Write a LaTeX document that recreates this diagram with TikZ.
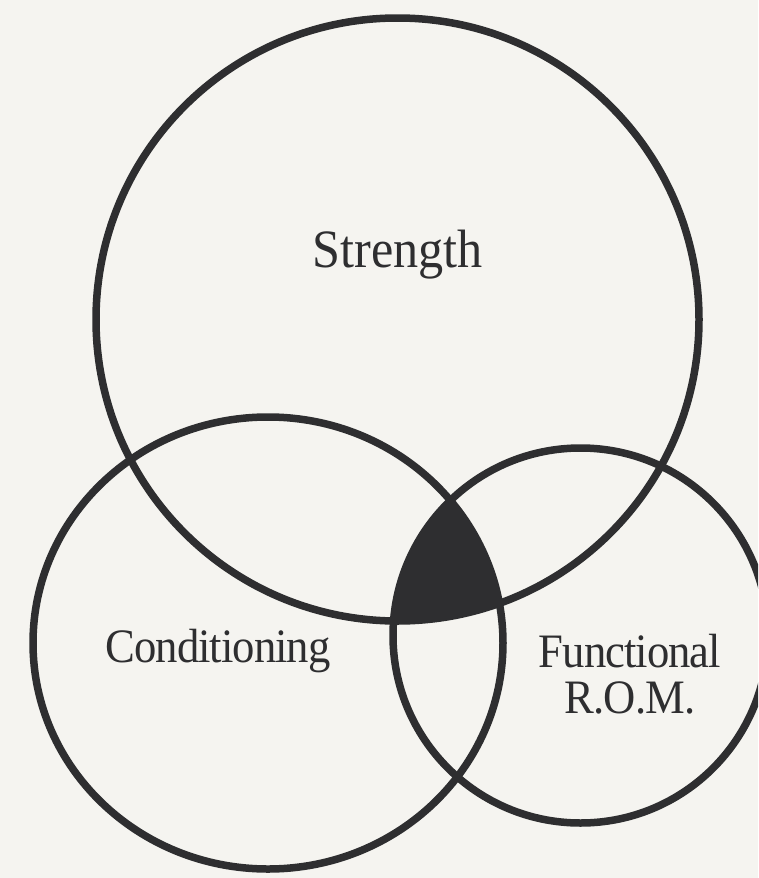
\documentclass[tikz,border=0pt]{standalone}
\usepackage{fontspec}
\setmainfont{Liberation Serif}[FakeStretch=0.93,LetterSpace=-2]
\usepackage{tikz}

\definecolor{ink}{HTML}{2E2E30}
\definecolor{paper}{HTML}{F5F4F0}
\newcommand{\vennfont}{\fontsize{48}{46}\selectfont}
\newcommand{\bigvennfont}{\fontsize{54}{54}\selectfont\addfontfeatures{LetterSpace=0}}

\begin{document}
\begin{tikzpicture}[x=1pt,y=-1pt,
  ring/.style={draw=ink, line width=7.5pt},
  lbl/.style={font=\vennfont, text=ink, inner sep=0pt, align=center}]
  \useasboundingbox (0,0) rectangle (758,878);
  \fill[paper] (0,0) rectangle (758,878);
  \clip (0,0) rectangle (758,878);

  % centres of the three sets
  \coordinate (str) at (397.5,319.5);
  \coordinate (con) at (268,643);
  \coordinate (fun) at (580.5,635.5);

  % common part of all three
  \begin{scope}
    \clip (str) circle[radius=301.5pt];
    \clip (con) ellipse[x radius=235pt, y radius=226pt];
    \fill[ink] (fun) circle[radius=187.5pt];
  \end{scope}

  \draw[ring] (str) circle[radius=301.5pt];
  \draw[ring] (con) ellipse[x radius=235pt, y radius=226pt];
  \draw[ring] (fun) circle[radius=187.5pt];

  \node[lbl, font=\bigvennfont, anchor=base] (strength) at (397.5,267) {Strength};
  \node[lbl, anchor=base] (conditioning) at (218,662) {Conditioning};
  \node[lbl, anchor=base] (functional) at (630,713) {Functional\\R.O.M.};
\end{tikzpicture}
\end{document}
